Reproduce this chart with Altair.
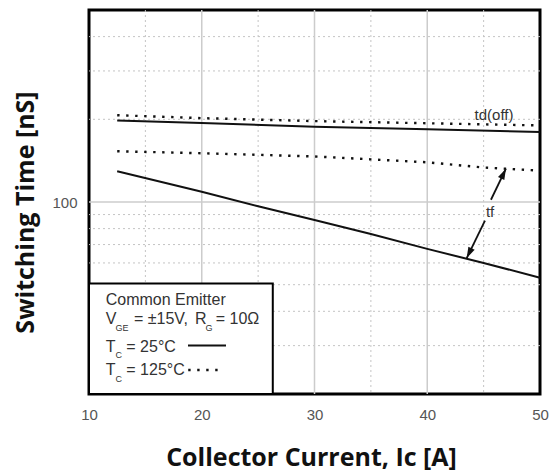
import math
import altair as alt
import pandas as pd

# ---------------- data ----------------
ic_td = [12.5, 20, 30, 40, 50]
td_off_25c = [198, 194, 188, 184, 180]
td_off_125c = [207, 202, 197, 193.5, 190]

ic_tf = [12.5, 20, 25, 30, 35, 40, 45, 50]
tf_25c = [129.5, 109, 96.5, 86, 76.5, 67.5, 60, 53]
tf_125c = [153, 150.5, 148.5, 146.5, 143, 139.5, 133.5, 130]

x_ticks = [10, 20, 30, 40, 50]
y_ticks = [100]
x_grid_major = [20, 30, 40]
x_grid_minor = [15, 25, 35, 45]
y_grid_major = [100]
y_grid_minor = [30, 40, 50, 60, 70, 80, 90, 200, 300, 400]

X_DOMAIN = [10, 50]
Y_DOMAIN = [20, 500]

# ---------------- tables ----------------
rows = []
for name, xs_, ys_, temp in [
    ("td_off_25", ic_td, td_off_25c, "25"),
    ("td_off_125", ic_td, td_off_125c, "125"),
    ("tf_25", ic_tf, tf_25c, "25"),
    ("tf_125", ic_tf, tf_125c, "125"),
]:
    for a, b in zip(xs_, ys_):
        rows.append({"x": a, "y": b, "curve": name, "temp": temp})
lines = pd.DataFrame(rows)
solid = lines[lines.temp == "25"]
dotted = lines[lines.temp == "125"]

# annotation placement (in data units: A, nS)
legend_box = pd.DataFrame({"x": [10], "x2": [26.3], "y": [20], "y2": [50.5]})
legend_main = pd.DataFrame({
    "text": ["Common Emitter", "V", "= ±15V,", "R", "= 10Ω", "T", "= 25°C", "T", "= 125°C"],
    "x": [11.48, 11.48, 13.99, 19.4, 21.24, 11.48, 13.31, 11.48, 13.31],
    "y": [44, 37.5, 37.5, 37.5, 37.5, 29.65, 29.65, 24.45, 24.45],
})
legend_sub = pd.DataFrame({
    "text": ["GE", "G", "C", "C"],
    "x": [12.36, 20.34, 12.36, 12.36],
    "y": [34.8, 34.8, 27.7, 22.67],
})
legend_solid = pd.DataFrame({"x": [18.78, 22.15], "y": [30.06, 30.06]})
legend_dot = pd.DataFrame({"x": [18.8, 21.5], "y": [24.45, 24.45]})

labels = pd.DataFrame({"text": ["td(off)", "tf"], "x": [45.92, 45.57], "y": [207.4, 91.6]})

arrow_tail_x = [45.65, 45.12]
arrow_tail_y = [101.9, 85.5]
arrow_tip_x = [46.98, 43.5]
arrow_tip_y = [132.2, 62.5]
arrow_angle = [26, 206]
arrow_rows = []
for i in range(2):
    arrow_rows.append({"id": i, "o": 0, "x": arrow_tail_x[i], "y": arrow_tail_y[i]})
    arrow_rows.append({"id": i, "o": 1, "x": arrow_tip_x[i], "y": arrow_tip_y[i]})
arrows = pd.DataFrame(arrow_rows)
heads = pd.DataFrame({"x": arrow_tip_x, "y": arrow_tip_y, "angle": arrow_angle})

# ---------------- scales / axes ----------------
xs = alt.Scale(domain=X_DOMAIN, nice=False, zero=False)
ys = alt.Scale(type="log", domain=Y_DOMAIN, nice=False)

LABEL_FONT = "Liberation Sans"
TEXT_COLOR = "#333333"
LINE_COLOR = "#111111"

x_axis = alt.Axis(
    values=x_ticks, title="Collector Current, Ic [A]", grid=False, ticks=False,
    domain=False, labelFont=LABEL_FONT, labelFontSize=15, labelColor="#555555",
    labelPadding=13, labelFlush=False, titleFont="Open Sans", titleFontSize=25,
    titleFontWeight="bold", titleColor="#111111", titleX=222, titleY=71,
    titleAlign="center", titleBaseline="alphabetic",
)
y_axis = alt.Axis(
    values=y_ticks, format="d", title="Switching Time [nS]", grid=False, ticks=False,
    domain=False, labelFont=LABEL_FONT, labelFontSize=15, labelColor="#555555",
    labelPadding=12, titleFont="Open Sans", titleFontSize=25, titleFontWeight="bold",
    titleColor="#111111", titleX=-56, titleY=202, titleAngle=270,
    titleAlign="center", titleBaseline="alphabetic",
)


def X(f="x"):
    return alt.X(f"{f}:Q", scale=xs, axis=x_axis, title="Collector Current, Ic [A]")


def Y(f="y"):
    return alt.Y(f"{f}:Q", scale=ys, axis=y_axis, title="Switching Time [nS]")


# ---------------- layers ----------------
grid_x_minor = alt.Chart(pd.DataFrame({"x": x_grid_minor})).mark_rule(
    color="#c4c4c4", strokeWidth=1, strokeDash=[2, 3]).encode(x=X())
grid_y_minor = alt.Chart(pd.DataFrame({"y": y_grid_minor})).mark_rule(
    color="#c4c4c4", strokeWidth=1, strokeDash=[2, 3]).encode(y=Y())
grid_x_major = alt.Chart(pd.DataFrame({"x": x_grid_major})).mark_rule(
    color="#cccccc", strokeWidth=1.5).encode(x=X())
grid_y_major = alt.Chart(pd.DataFrame({"y": y_grid_major})).mark_rule(
    color="#cccccc", strokeWidth=1.5).encode(y=Y())

solid_lines = alt.Chart(solid).mark_line(color=LINE_COLOR, strokeWidth=2).encode(
    x=X(), y=Y(), detail="curve:N", order="x:Q")
dotted_lines = alt.Chart(dotted).mark_line(
    color=LINE_COLOR, strokeWidth=2.4, strokeDash=[2.4, 6.6], strokeCap="butt").encode(
    x=X(), y=Y(), detail="curve:N", order="x:Q")

arrow_shafts = alt.Chart(arrows).mark_line(color=LINE_COLOR, strokeWidth=1.8).encode(
    x=X(), y=Y(), detail="id:N", order="o:Q")
arrow_heads = alt.Chart(heads).mark_point(
    shape="M0,0L0.32,1L-0.32,1Z", filled=True, size=480, color=LINE_COLOR, opacity=1).encode(
    x=X(), y=Y(), angle=alt.Angle("angle:Q", scale=None))

box = alt.Chart(legend_box).mark_rect(fill="white", stroke="#000000", strokeWidth=2).encode(
    x=X(), x2="x2:Q", y=Y(), y2="y2:Q")
box_text = alt.Chart(legend_main).mark_text(
    align="left", baseline="middle", font=LABEL_FONT, fontSize=16, color=TEXT_COLOR).encode(
    x=X(), y=Y(), text="text:N")
box_sub = alt.Chart(legend_sub).mark_text(
    align="left", baseline="middle", font=LABEL_FONT, fontSize=9, color=TEXT_COLOR).encode(
    x=X(), y=Y(), text="text:N")
box_solid = alt.Chart(legend_solid).mark_line(color=LINE_COLOR, strokeWidth=2).encode(
    x=X(), y=Y())
box_dot = alt.Chart(legend_dot).mark_line(
    color=LINE_COLOR, strokeWidth=2.4, strokeDash=[2.4, 6.6], strokeCap="butt").encode(
    x=X(), y=Y())

curve_labels = alt.Chart(labels).mark_text(
    align="center", baseline="middle", font=LABEL_FONT, fontSize=15, color=TEXT_COLOR).encode(
    x=X(), y=Y(), text="text:N")

chart = alt.layer(
    grid_x_minor, grid_y_minor, grid_x_major, grid_y_major,
    solid_lines, dotted_lines, arrow_shafts, arrow_heads,
    box, box_text, box_sub, box_solid, box_dot, curve_labels,
).properties(
    width=451, height=384,
    autosize=alt.AutoSizeParams(type="none"),
    padding={"left": 89, "top": 10, "right": 18, "bottom": 78},
    background="white",
).configure_view(stroke="#000000", strokeWidth=3)

chart.save("out.html", embed_options={"renderer": "svg", "actions": False})
